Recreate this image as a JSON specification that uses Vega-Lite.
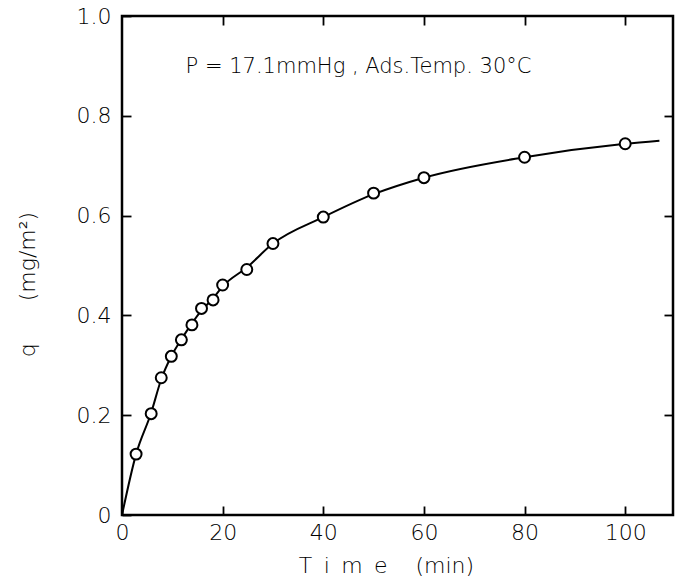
{
  "$schema": "https://vega.github.io/schema/vega-lite/v6.json",
  "width": 551,
  "height": 499,
  "autosize": {"type": "none"},
  "padding": {"left": 122, "top": 16, "right": 3, "bottom": 62},
  "background": "white",
  "config": {
    "view": {"stroke": "black", "strokeWidth": 2.5},
    "font": "DejaVu Sans",
    "axis": {
      "domain": false,
      "grid": false,
      "tickColor": "black",
      "tickWidth": 1.8,
      "tickSize": -9,
      "labelColor": "black",
      "labelFont": "DejaVu Sans",
      "labelFontWeight": 200,
      "labelFontSize": 22,
      "titleColor": "black",
      "titleFont": "DejaVu Sans",
      "titleFontWeight": 200,
      "titleFontSize": 22
    }
  },
  "datasets": {
    "points": [
      {"t": 2.8, "q": 0.122},
      {"t": 5.8, "q": 0.203},
      {"t": 7.8, "q": 0.275},
      {"t": 9.8, "q": 0.318},
      {"t": 11.8, "q": 0.351},
      {"t": 13.9, "q": 0.381},
      {"t": 15.8, "q": 0.414},
      {"t": 18.1, "q": 0.431},
      {"t": 20, "q": 0.461},
      {"t": 24.8, "q": 0.492},
      {"t": 30, "q": 0.544},
      {"t": 40, "q": 0.597},
      {"t": 50, "q": 0.645},
      {"t": 60, "q": 0.676},
      {"t": 80, "q": 0.717},
      {"t": 100, "q": 0.744}
    ],
    "curve": [
      {"t": 0, "q": 0},
      {"t": 2.8, "q": 0.122},
      {"t": 5.8, "q": 0.205},
      {"t": 7.8, "q": 0.272},
      {"t": 9.8, "q": 0.318},
      {"t": 11.8, "q": 0.352},
      {"t": 13.9, "q": 0.384},
      {"t": 15.8, "q": 0.410},
      {"t": 18.1, "q": 0.434},
      {"t": 20, "q": 0.458},
      {"t": 24.8, "q": 0.496},
      {"t": 30, "q": 0.544},
      {"t": 40, "q": 0.597},
      {"t": 50, "q": 0.643},
      {"t": 60, "q": 0.676},
      {"t": 80, "q": 0.717},
      {"t": 100, "q": 0.744},
      {"t": 106.8, "q": 0.750}
    ],
    "note": [
      {"label": "P = 17.1mmHg , Ads.Temp. 30°C"}
    ]
  },
  "resolve": {"axis": {"x": "independent", "y": "independent"}},
  "layer": [
    {
      "data": {"name": "curve"},
      "mark": {"type": "line", "color": "black", "strokeWidth": 2, "interpolate": "monotone"},
      "encoding": {
        "x": {
          "field": "t", "type": "quantitative",
          "scale": {"domain": [0, 109.5], "nice": false, "zero": false},
          "axis": {
            "orient": "bottom",
            "values": [0, 20, 40, 60, 80, 100],
            "labelPadding": 16,
            "labelFlush": false,
            "title": "T\u00a0\u2009i\u00a0\u2009m\u00a0\u2009e\u00a0\u00a0\u00a0\u00a0(min)",
            "titleX": 264,
            "titleY": 57,
            "titleBaseline": "alphabetic"
          }
        },
        "y": {
          "field": "q", "type": "quantitative",
          "scale": {"domain": [0, 1.0], "nice": false},
          "axis": {
            "orient": "left",
            "values": [0, 0.2, 0.4, 0.6, 0.8, 1.0],
            "labelExpr": "datum.value == 0 ? '0' : format(datum.value, '.1f')",
            "labelPadding": 20,
            "labelFlush": false,
            "title": "q\u00a0\u00a0\u00a0\u00a0\u00a0\u00a0(mg/m²)",
            "titleX": -95,
            "titleY": 268,
            "titleBaseline": "middle"
          }
        }
      }
    },
    {
      "data": {"name": "points"},
      "mark": {"type": "point", "shape": "circle", "filled": true, "fill": "white", "stroke": "black", "strokeWidth": 2, "size": 120, "opacity": 1},
      "encoding": {
        "x": {
          "field": "t", "type": "quantitative",
          "axis": {"orient": "top", "values": [20, 40, 60, 80, 100], "labels": false, "title": null}
        },
        "y": {
          "field": "q", "type": "quantitative",
          "axis": {"orient": "right", "values": [0.2, 0.4, 0.6, 0.8], "labels": false, "title": null}
        }
      }
    },
    {
      "data": {"name": "note"},
      "mark": {"type": "text", "font": "DejaVu Sans", "fontWeight": 200, "fontSize": 21, "color": "black", "align": "center", "baseline": "middle"},
      "encoding": {
        "x": {"datum": 47, "type": "quantitative", "axis": null},
        "y": {"datum": 0.898, "type": "quantitative", "axis": null},
        "text": {"field": "label", "type": "nominal"}
      }
    }
  ]
}
